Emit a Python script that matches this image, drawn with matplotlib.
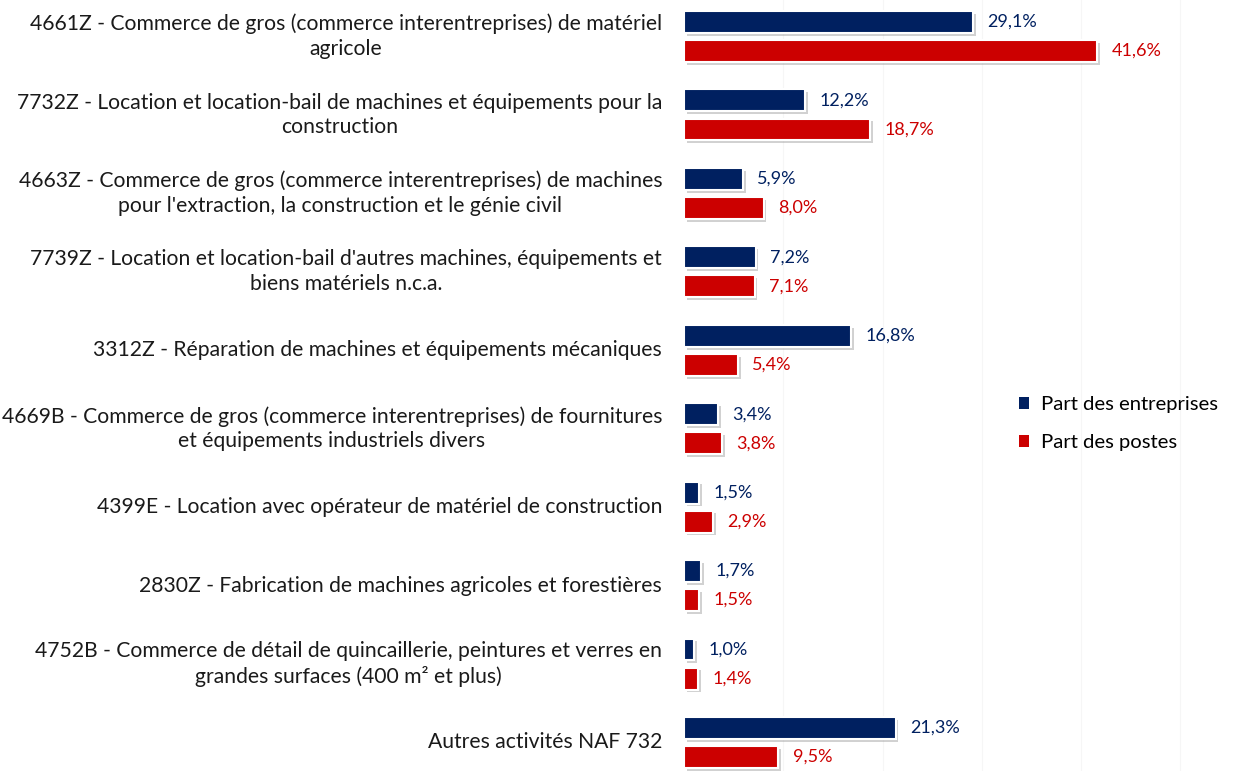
import matplotlib

matplotlib.use("Agg")
import matplotlib.pyplot as plt
import matplotlib.patheffects as pe
from matplotlib.patches import Patch

# data
CATEGORIES = [
    "4661Z - Commerce de gros (commerce interentreprises) de matériel\nagricole",
    "7732Z - Location et location-bail de machines et équipements pour la\nconstruction",
    "4663Z - Commerce de gros (commerce interentreprises) de machines\npour l'extraction, la construction et le génie civil",
    "7739Z - Location et location-bail d'autres machines, équipements et\nbiens matériels n.c.a.",
    "3312Z - Réparation de machines et équipements mécaniques",
    "4669B - Commerce de gros (commerce interentreprises) de fournitures\net équipements industriels divers",
    "4399E - Location avec opérateur de matériel de construction",
    "2830Z - Fabrication de machines agricoles et forestières",
    "4752B - Commerce de détail de quincaillerie, peintures et verres en\ngrandes surfaces (400 m² et plus)",
    "Autres activités NAF 732",
]
PART_ENTREPRISES = [29.1, 12.2, 5.9, 7.2, 16.8, 3.4, 1.5, 1.7, 1.0, 21.3]
PART_POSTES = [41.6, 18.7, 8.0, 7.1, 5.4, 3.8, 2.9, 1.5, 1.4, 9.5]
SERIES_NAMES = ["Part des entreprises", "Part des postes"]

BLUE = "#002060"
RED = "#CC0000"
FONT = "Lato"

plt.rcParams["font.family"] = [FONT, "DejaVu Sans"]

fig = plt.figure(figsize=(12.35, 7.71), dpi=100)
ax = fig.add_axes([0.554, 0.0, 0.446, 1.0])

bar_h = 0.28
offset = 0.185
shadow = [pe.SimplePatchShadow(offset=(2, -2), shadow_rgbFace="#999999", alpha=0.45), pe.Normal()]

for i, (v_ent, v_pos) in enumerate(zip(PART_ENTREPRISES, PART_POSTES)):
    for val, dy, color in ((v_ent, -offset, BLUE), (v_pos, offset, RED)):
        bar = ax.barh(i + dy, val, height=bar_h, color=color, edgecolor="white", linewidth=1.5, zorder=3)
        bar[0].set_path_effects(shadow)
        ax.text(
            val + 1.45,
            i + dy,
            f"{val:.1f}%".replace(".", ","),
            color=color,
            fontsize=13,
            va="center",
            ha="left",
            zorder=4,
        )

ax.set_ylim(9.364, -0.466)
ax.set_xlim(0, 55.5)
ax.set_xticks([10, 20, 30, 40, 50])
ax.xaxis.grid(True, color="#f6f6f6", linewidth=0.8, zorder=0)
ax.tick_params(axis="x", length=0, labelbottom=False)
ax.tick_params(axis="y", length=0, labelleft=False)
for side in ("top", "right", "bottom", "left"):
    ax.spines[side].set_visible(False)

# category labels, right aligned block with centred lines
for i, label in enumerate(CATEGORIES):
    ax.annotate(
        label,
        xy=(0, i),
        xycoords=("axes fraction", "data"),
        xytext=(-22, 0),
        textcoords="offset pixels",
        ha="right",
        va="center",
        multialignment="center",
        fontsize=15.2,
        color="#1a1a1a",
        linespacing=1.3,
    )

handles = [Patch(facecolor=BLUE), Patch(facecolor=RED)]
fig.legend(
    handles,
    SERIES_NAMES,
    loc="upper left",
    bbox_to_anchor=(0.81, 0.51),
    frameon=False,
    fontsize=14.6,
    handlelength=0.5,
    handleheight=0.5,
    handletextpad=0.6,
    labelspacing=1.05,
)

fig.savefig("out.png", dpi=100)
